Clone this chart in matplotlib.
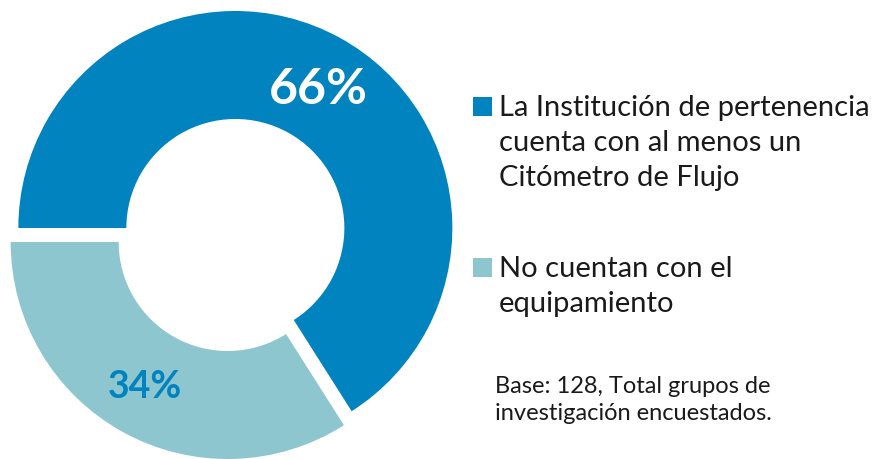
import matplotlib
matplotlib.use("Agg")
import matplotlib.pyplot as plt
from matplotlib.patches import Rectangle

categories = ["La Institución de pertenencia\ncuenta con al menos un\nCitómetro de Flujo",
              "No cuentan con el\nequipamiento"]
values = [66, 34]
colors = ["#0083BE", "#8DC6CE"]
pct_colors = ["white", "#0083BE"]
note = "Base: 128, Total grupos de\ninvestigación encuestados."

W, H = 879, 460
fig = plt.figure(figsize=(W / 100, H / 100), dpi=100)
ax = fig.add_axes([0, 0, 1, 1])

R = 217
cx, cy = 231.5, H - 236
ax.pie(values, startangle=180, counterclock=False, colors=colors,
       radius=R, center=(cx, cy), explode=[8, 8],
       wedgeprops=dict(width=108, linewidth=0), frame=True)
ax.set_xlim(0, W)
ax.set_ylim(0, H)
ax.set_aspect("equal")
ax.axis("off")

font = ["Lato", "DejaVu Sans"]
# percentage labels
pct_pos = [(318, H - 89), (145, H - 387)]
pct_size = [36, 27]
for v, (x, y), c, s in zip(values, pct_pos, pct_colors, pct_size):
    ax.text(x, y, f"{v}%", color=c, fontsize=s, fontweight="bold",
            ha="center", va="center", family=font)

# legend
leg_y = [H - 107, H - 268]
for cat, col, y in zip(categories, colors, leg_y):
    ax.add_patch(Rectangle((473, y - 9.5), 19, 19, color=col, lw=0))
    ax.text(499, y + 12, cat, fontsize=21, color="#1a1a1a", ha="left", va="top",
            family=font, linespacing=1.42)

ax.text(633, H - 400, note, fontsize=17, color="#1a1a1a", ha="center", va="center",
        family=font, linespacing=1.3, multialignment="center")

fig.savefig("out.png", dpi=100)
